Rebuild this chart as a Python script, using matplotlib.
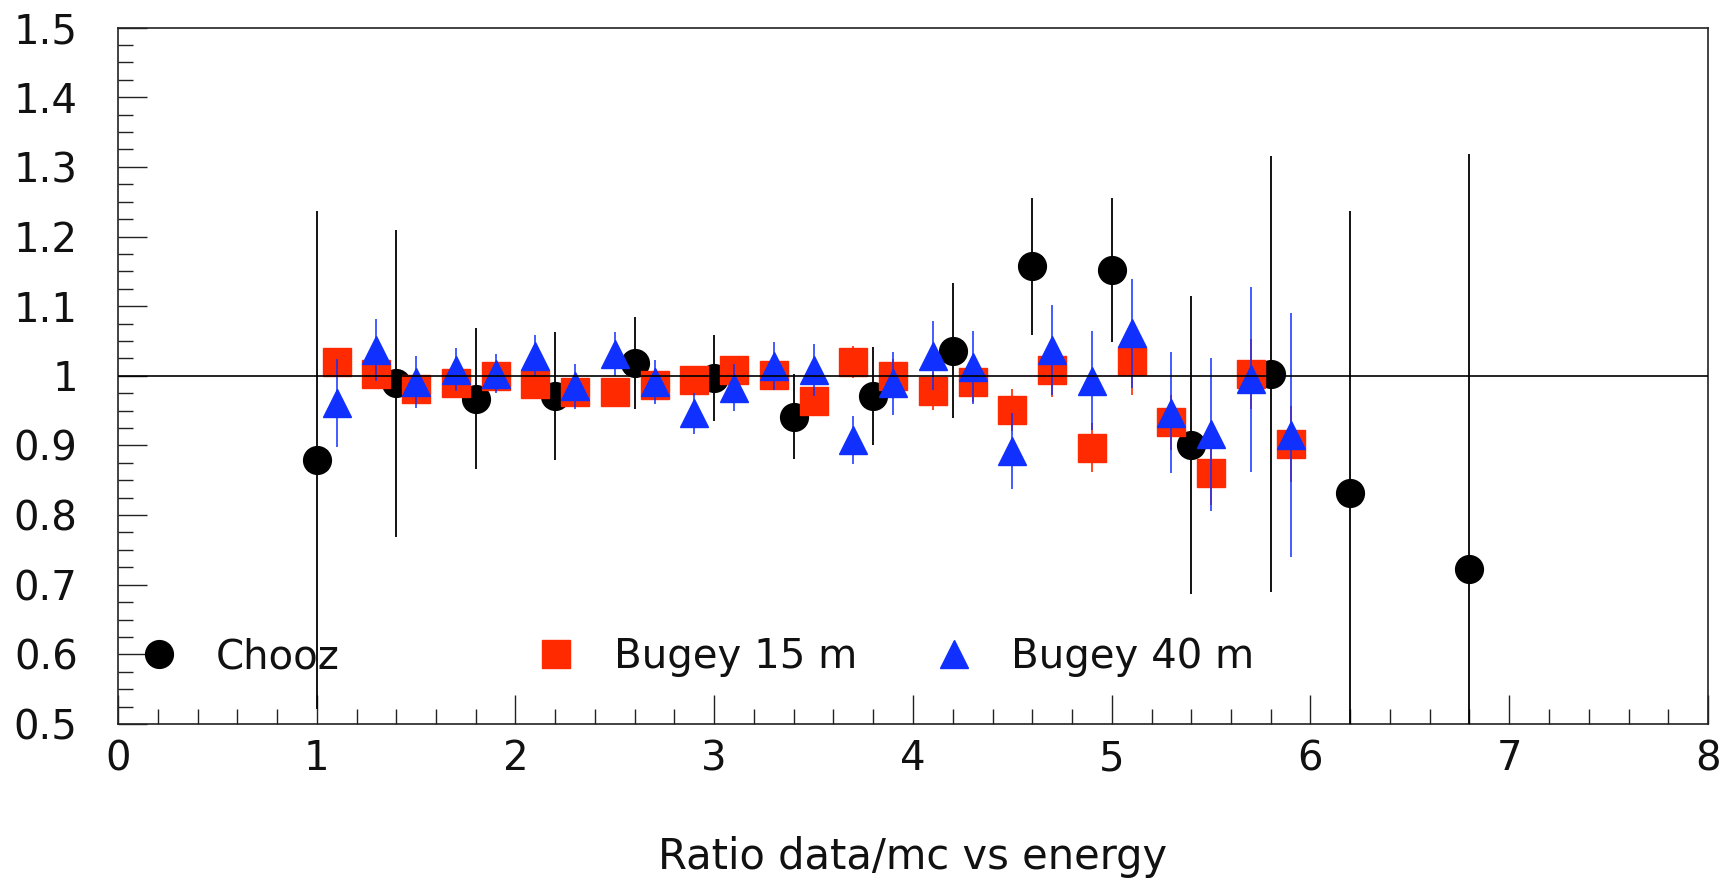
import matplotlib
matplotlib.use("Agg")
import matplotlib.pyplot as plt
from matplotlib.ticker import MultipleLocator, FuncFormatter

# Chooz ratio data/MC per energy bin
chooz_energy = [1.0, 1.4, 1.8, 2.2, 2.6, 3.0, 3.4, 3.8, 4.2, 4.6, 5.0, 5.4, 5.8, 6.2, 6.8]
chooz_ratio = [0.879, 0.989, 0.967, 0.971, 1.019, 0.997, 0.941, 0.971, 1.036,
               1.157, 1.152, 0.901, 1.002, 0.832, 0.723]
chooz_err = [0.357, 0.221, 0.101, 0.092, 0.066, 0.062, 0.061, 0.071, 0.097,
             0.099, 0.104, 0.214, 0.313, 0.404, 0.596]

# Bugey energy bins (shared by both baselines)
bugey_energy = [1.1, 1.3, 1.5, 1.7, 1.9, 2.1, 2.3, 2.5, 2.7, 2.9, 3.1, 3.3, 3.5,
                3.7, 3.9, 4.1, 4.3, 4.5, 4.7, 4.9, 5.1, 5.3, 5.5, 5.7, 5.9]

# Bugey 15 m
bugey15_ratio = [1.020, 1.003, 0.981, 0.989, 1.000, 0.988, 0.977, 0.977, 0.987,
                 0.994, 1.008, 1.001, 0.964, 1.020, 0.999, 0.978, 0.991, 0.951,
                 1.008, 0.897, 1.021, 0.933, 0.860, 1.003, 0.902]
bugey15_err = [0.015, 0.015, 0.015, 0.015, 0.015, 0.015, 0.015, 0.015, 0.015,
               0.016, 0.017, 0.018, 0.020, 0.023, 0.025, 0.027, 0.028, 0.030,
               0.038, 0.035, 0.048, 0.040, 0.045, 0.050, 0.055]

# Bugey 40 m
bugey40_ratio = [0.961, 1.037, 0.991, 1.009, 1.003, 1.029, 0.985, 1.031, 0.991,
                 0.946, 0.983, 1.014, 1.008, 0.908, 0.989, 1.029, 1.012, 0.892,
                 1.037, 0.993, 1.061, 0.947, 0.916, 0.995, 0.915]
bugey40_err = [0.063, 0.045, 0.037, 0.031, 0.028, 0.030, 0.032, 0.032, 0.032,
               0.030, 0.034, 0.034, 0.037, 0.034, 0.045, 0.050, 0.052, 0.054,
               0.064, 0.071, 0.078, 0.087, 0.110, 0.133, 0.175]

series_labels = ["Chooz", "Bugey 15 m", "Bugey 40 m"]

RED = "#ff2a00"
BLUE = "#1030ff"
TXT = "#111111"

plt.rcParams["font.family"] = ["DejaVu Sans"]

W, H = 1733, 884
fig = plt.figure(figsize=(W / 100, H / 100), dpi=100)
ax = fig.add_axes([118 / W, 1 - 724 / H, 1590 / W, 696.4 / H])

ms = 20
ax.errorbar(chooz_energy, chooz_ratio, yerr=chooz_err, fmt="o", color="black",
            ms=ms, elinewidth=1.3, capsize=0, zorder=3)
ax.errorbar(bugey_energy, bugey15_ratio, yerr=bugey15_err, fmt="s", color=RED,
            ms=ms, elinewidth=1.2, capsize=0, zorder=4)
ax.errorbar(bugey_energy, bugey40_ratio, yerr=bugey40_err, fmt="^", color=BLUE,
            ms=ms, elinewidth=1.1, capsize=0, zorder=5)

ax.axhline(1.0, color="black", lw=1.2, zorder=6)

ax.set_xlim(0, 8)
ax.set_ylim(0.5, 1.5)

ax.xaxis.set_major_locator(MultipleLocator(1))
ax.xaxis.set_minor_locator(MultipleLocator(0.2))
ax.yaxis.set_major_locator(MultipleLocator(0.1))
ax.yaxis.set_minor_locator(MultipleLocator(0.025))
fmt = FuncFormatter(lambda v, p: f"{v:g}")
ax.xaxis.set_major_formatter(fmt)
ax.yaxis.set_major_formatter(fmt)

ax.tick_params(which="both", direction="in", top=False, right=False, colors="#222222")
ax.tick_params(which="major", length=21, width=1.0, labelcolor=TXT, labelsize=29)
ax.tick_params(which="minor", length=11, width=1.0)
ax.tick_params(axis="x", which="major", pad=11)
ax.tick_params(axis="y", which="major", pad=29)

for s in ax.spines.values():
    s.set_linewidth(1.2)
    s.set_color("#222222")

ax.set_xlabel("Ratio data/mc vs energy", fontsize=30, labelpad=41, color=TXT)

# legend row drawn inside the frame
legend_marks = [("o", "black"), ("s", RED), ("^", BLUE)]
mark_x = [0.0257, 0.2753, 0.5256]
text_x = [0.0616, 0.3121, 0.5616]
for (m, c), mx, tx, lab in zip(legend_marks, mark_x, text_x, series_labels):
    ax.plot([mx], [0.1], marker=m, color=c, ms=ms, transform=ax.transAxes,
            clip_on=False, zorder=7)
    ax.text(tx, 0.080, lab, transform=ax.transAxes, fontsize=29, color=TXT,
            va="baseline", ha="left", zorder=7)

fig.savefig("out.png", dpi=100)
